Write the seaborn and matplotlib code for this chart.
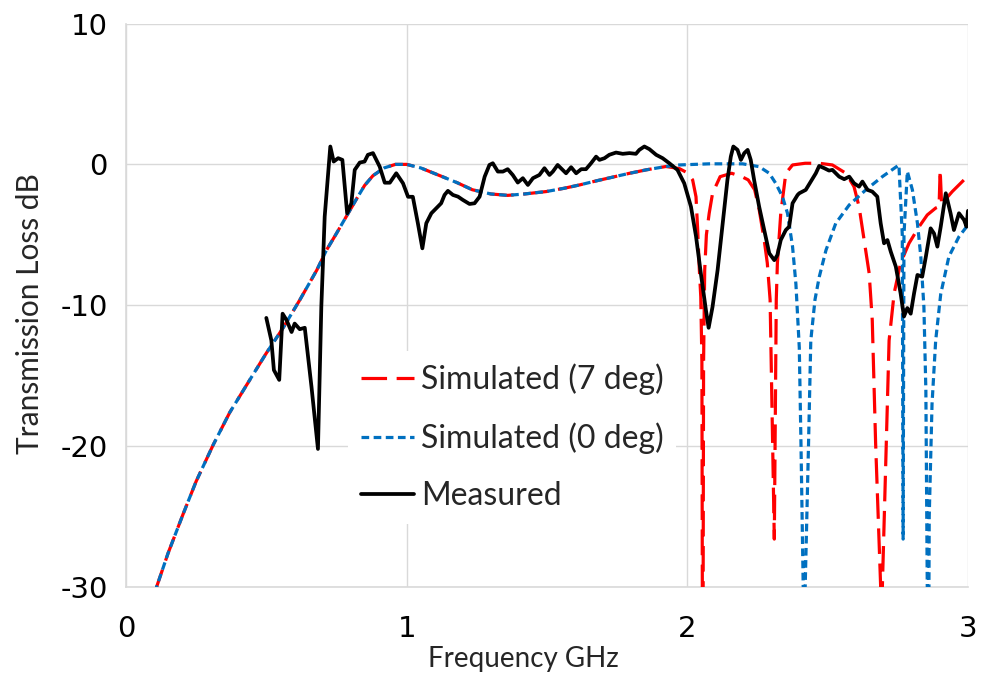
import matplotlib
matplotlib.use('Agg')
import matplotlib.pyplot as plt
import seaborn as sns
import numpy as np

# --- data ---
# both simulations share the same curve below ~1.92 GHz
sim_common_f = [0.095, 0.109, 0.15, 0.204, 0.25, 0.311, 0.37, 0.441, 0.50, 0.56, 0.62, 0.68,
                0.714, 0.75, 0.785, 0.82, 0.85, 0.88, 0.92, 0.96, 1.0, 1.05, 1.127, 1.18,
                1.234, 1.30, 1.36, 1.42, 1.497, 1.56, 1.616, 1.68, 1.733, 1.79, 1.853, 1.924]
sim_common_db = [-33, -30, -27.6, -24.8, -22.5, -19.9, -17.6, -15.3, -13.4, -11.6, -9.6, -7.5,
                 -6.1, -4.9, -3.7, -2.5, -1.5, -0.8, -0.25, 0.0, 0.0, -0.25, -0.87, -1.3,
                 -1.8, -2.1, -2.2, -2.1, -1.93, -1.7, -1.46, -1.15, -0.91, -0.65, -0.39, -0.15]

sim7_tail_f = [1.972, 2.0, 2.019, 2.031, 2.037, 2.043, 2.048, 2.052, 2.055, 2.058, 2.062, 2.068,
               2.078, 2.09, 2.117, 2.158, 2.194, 2.217, 2.24, 2.256, 2.274, 2.285, 2.295, 2.31,
               2.317, 2.321, 2.333, 2.351, 2.375, 2.42, 2.47, 2.517, 2.565, 2.594, 2.612, 2.63,
               2.648, 2.659, 2.671, 2.689, 2.692, 2.695, 2.709, 2.719, 2.737, 2.760, 2.79,
               2.826, 2.855, 2.885, 2.897, 2.901, 2.906, 2.944, 2.992, 3.0]
sim7_tail_db = [-0.3, -0.6, -1.1, -2.3, -4.66, -7.5, -9.4, -14, -45, -14, -7.5, -5.0,
                -3.47, -2.05, -0.87, -0.63, -0.87, -1.1, -1.8, -3.2, -5.37, -7.0, -9.6, -26.6,
                -9.6, -7.0, -3.47, -0.63, -0.04, 0.08, 0.08, -0.04, -0.63, -1.58, -3.0, -5.37,
                -7.73, -11.05, -19.8, -30, -45, -30, -19.8, -12.5, -9.15, -7.0, -5.6,
                -4.42, -3.59, -3.1, -3.0, -0.4, -2.8, -1.93, -0.98, -0.9]

sim0_tail_f = [1.972, 2.078, 2.197, 2.256, 2.292, 2.315, 2.339, 2.357, 2.375, 2.387, 2.399,
               2.405, 2.413, 2.416, 2.42, 2.432, 2.44, 2.455, 2.47, 2.494, 2.529, 2.577,
               2.636, 2.695, 2.754, 2.766, 2.769, 2.772, 2.784, 2.802, 2.82, 2.832, 2.843,
               2.85, 2.855, 2.858, 2.862, 2.872, 2.885, 2.903, 2.932, 2.968, 3.0]
sim0_tail_db = [-0.04, 0.04, 0.04, -0.16, -0.63, -1.34, -2.29, -3.47, -5.84, -8.5, -13,
                -19.8, -30, -45, -30, -19.8, -12.5, -9.6, -8.0, -6.1, -4.18, -2.88,
                -1.81, -0.87, -0.04, -5, -26.6, -5, -0.5, -1.81, -4.18, -6.55, -10.1,
                -16, -30, -45, -25, -17, -12.5, -9.2, -6.55, -5.13, -4.3]

meas_f = [0.5, 0.518, 0.527, 0.546, 0.558, 0.572, 0.59, 0.601, 0.619, 0.637, 0.661, 0.684,
          0.696, 0.708, 0.728, 0.74, 0.756, 0.771, 0.788, 0.803, 0.815, 0.833, 0.85, 0.862,
          0.88, 0.904, 0.922, 0.94, 0.963, 0.987, 1.005, 1.022, 1.04, 1.056, 1.07, 1.088,
          1.106, 1.123, 1.135, 1.147, 1.165, 1.183, 1.2, 1.224, 1.242, 1.26, 1.278, 1.295,
          1.307, 1.325, 1.343, 1.36, 1.378, 1.396, 1.414, 1.432, 1.45, 1.473, 1.491, 1.509,
          1.521, 1.538, 1.556, 1.568, 1.586, 1.604, 1.622, 1.639, 1.657, 1.675, 1.687, 1.705,
          1.722, 1.746, 1.77, 1.794, 1.817, 1.829, 1.847, 1.865, 1.889, 1.912, 1.936, 1.965,
          1.989, 2.013, 2.031, 2.048, 2.066, 2.076, 2.09, 2.108, 2.126, 2.143, 2.155, 2.164,
          2.179, 2.191, 2.203, 2.215, 2.226, 2.238, 2.256, 2.274, 2.292, 2.31, 2.321, 2.333,
          2.351, 2.363, 2.375, 2.393, 2.399, 2.422, 2.44, 2.458, 2.47, 2.488, 2.505, 2.517,
          2.541, 2.559, 2.577, 2.594, 2.612, 2.624, 2.642, 2.659, 2.677, 2.689, 2.701, 2.713,
          2.725, 2.743, 2.760, 2.772, 2.784, 2.796, 2.808, 2.82, 2.837, 2.85, 2.867, 2.879,
          2.891, 2.903, 2.921, 2.938, 2.95, 2.968, 2.986, 2.995, 3.0]
meas_db = [-10.9, -12.5, -14.6, -15.3, -10.6, -11.05, -11.9, -11.3, -11.7, -11.6, -15.8, -20.2,
           -10.1, -3.7, 1.27, 0.2, 0.44, 0.32, -3.47, -2.76, -0.39, 0.13, 0.2, 0.68,
           0.8, -0.16, -1.3, -1.3, -0.63, -1.34, -2.3, -2.3, -4.18, -5.96, -4.18, -3.47,
           -3.11, -2.76, -2.17, -1.88, -2.17, -2.29, -2.52, -2.81, -2.76, -2.29, -0.87, -0.04,
           0.08, -0.51, -0.51, -0.34, -0.75, -1.29, -0.98, -1.46, -0.98, -0.75, -0.27, -0.75,
           -0.51, -0.04, -0.39, -0.63, -0.2, -0.63, -0.34, -0.34, 0.08, 0.55, 0.32, 0.44,
           0.68, 0.84, 0.75, 0.8, 0.75, 1.03, 1.27, 1.08, 0.68, 0.44, 0.08, -0.39,
           -1.34, -3.0, -5.1, -7.7, -10.3, -11.6, -10.1, -7.5, -4.18, -1.1, 0.55, 1.27,
           1.03, 0.32, 0.8, 1.03, 0.32, -1.1, -3.0, -4.66, -6.31, -6.8, -6.43, -5.37,
           -4.66, -4.42, -2.76, -2.17, -2.05, -1.81, -1.22, -0.63, -0.11, -0.27, -0.44, -0.39,
           -0.87, -1.05, -0.87, -1.34, -1.58, -1.22, -1.81, -1.93, -2.29, -4.18, -5.6, -5.37,
           -6.2, -7.26, -9.15, -10.8, -10.2, -10.6, -9.15, -7.85, -7.97, -6.55, -4.54, -4.9,
           -5.84, -4.42, -2.05, -3.47, -4.66, -3.47, -3.94, -4.42, -3.3]

sim7_f = sim_common_f + sim7_tail_f
sim7_db = sim_common_db + sim7_tail_db
sim0_f = sim_common_f + sim0_tail_f
sim0_db = sim_common_db + sim0_tail_db

x_ticks = [0, 1, 2, 3]
y_ticks = [-30, -20, -10, 0, 10]

# --- style ---
sns.set_style('white')
plt.rcParams['font.family'] = ['DejaVu Sans']
label_font = ['Lato', 'DejaVu Sans']

fig = plt.figure(figsize=(9.82, 6.76), dpi=100)
ax = fig.add_axes([0.1283, 0.1317, 0.8574, 0.8335])

grid_col = '#D9D9D9'

sns.lineplot(x=sim7_f, y=sim7_db, ax=ax, color='#FF0000', lw=2.3,
             estimator=None, sort=False, zorder=3)
l7 = ax.lines[-1]
l7.set_dashes([8, 3])
sns.lineplot(x=sim0_f, y=sim0_db, ax=ax, color='#0070C0', lw=2.3,
             estimator=None, sort=False, zorder=4)
l0 = ax.lines[-1]
l0.set_dashes([2.4, 1.4])
sns.lineplot(x=meas_f, y=meas_db, ax=ax, color='black', lw=2.7,
             estimator=None, sort=False, zorder=5)
lm = ax.lines[-1]
lm.set_solid_joinstyle('round')

ax.set_xlim(0, 3)
ax.set_ylim(-30, 10)
ax.set_xticks(x_ticks)
ax.set_yticks(y_ticks)
ax.set_xticklabels([str(v) for v in x_ticks])
ax.set_yticklabels([str(v) for v in y_ticks])
ax.tick_params(axis='both', length=0, labelsize=21, colors='black')
ax.tick_params(axis='y', pad=13)
ax.tick_params(axis='x', pad=20)
ax.grid(True, color=grid_col, lw=1.0)
ax.set_axisbelow(True)
for side in ['top', 'right']:
    ax.spines[side].set_visible(False)
for side in ['left', 'bottom']:
    ax.spines[side].set_color(grid_col)
    ax.spines[side].set_linewidth(1.2)

ax.set_ylabel('Transmission Loss dB', fontsize=21.5,
              family=['Liberation Sans Narrow', 'Lato', 'DejaVu Sans'])
ax.yaxis.set_label_coords(-0.097, 0.4845)
fig.text(0.533, 1 - 667 / 676, 'Frequency GHz', fontsize=20, family=label_font,
         ha='center', va='baseline')

leg = ax.legend([l7, l0, lm], ['Simulated (7 deg)', 'Simulated (0 deg)', 'Measured'],
                loc='center', bbox_to_anchor=(0.459, 0.266), frameon=True,
                prop={'family': label_font, 'size': 23}, handlelength=1.65,
                handletextpad=0.22, labelspacing=0.85, borderpad=0.4, fancybox=False)
leg.get_frame().set_facecolor('white')
leg.get_frame().set_edgecolor('none')
leg.get_frame().set_alpha(1)
leg.set_zorder(10)

fig.savefig('out.png', dpi=100)
